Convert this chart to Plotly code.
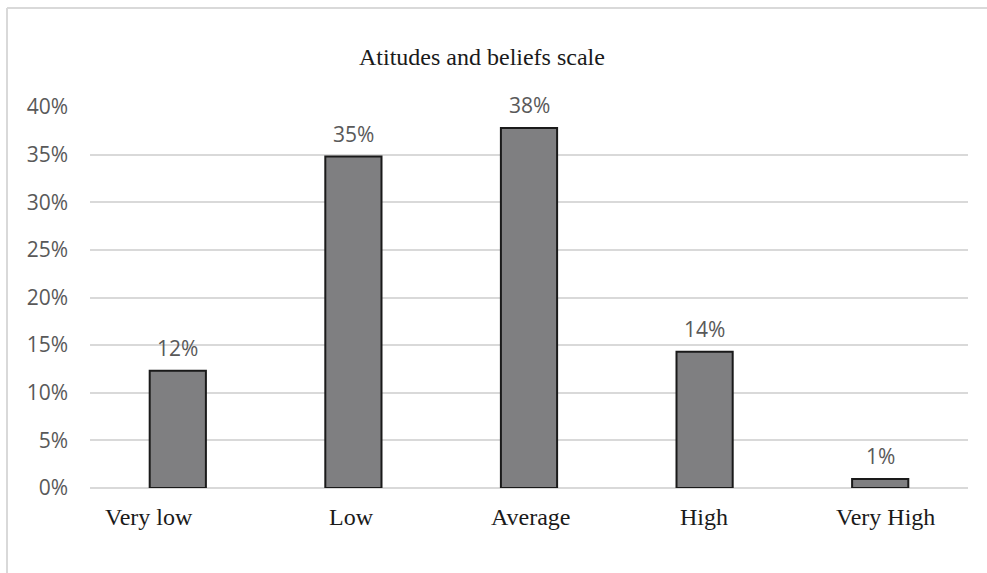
import plotly.graph_objects as go

categories = ["Very low", "Low", "Average", "High", "Very High"]
shares = [0.123, 0.348, 0.378, 0.143, 0.0095]
y_ticks = [0, 0.05, 0.10, 0.15, 0.20, 0.25, 0.30, 0.35, 0.40]
y_tick_text = ["0%", "5%", "10%", "15%", "20%", "25%", "30%", "35%", "40%"]
title_text = "Atitudes and beliefs scale"

# horizontal nudges (px) of the category captions
caption_shift = [-29, -2, 2, -1, 5]

W, H = 987, 573
ML, MR, MT, MB = 90, 19, 107, 85
pw, ph = W - ML - MR, H - MT - MB

fig = go.Figure()
fig.add_trace(go.Bar(
    x=categories, y=shares, width=0.32,
    marker=dict(color="#7f7f81", line=dict(color="#1a1a1a", width=2)),
    hoverinfo="skip",
))

# value labels above each bar
for c, v in zip(categories, shares):
    fig.add_annotation(
        x=c, y=v, text=f"{v:.0%}", showarrow=False,
        yanchor="bottom", yshift=7,
        font=dict(family="Open Sans, Arial", size=21, color="#595959"),
    )

# category captions under the axis
for c, dx in zip(categories, caption_shift):
    fig.add_annotation(
        x=c, y=0, xref="x", yref="paper", text=c, showarrow=False,
        yanchor="top", yshift=-14, xshift=dx,
        font=dict(family="Liberation Serif, Times New Roman", size=24, color="#1a1a1a"),
    )

# chart-area frame (left and top edges visible)
def px_x(p):
    return (p - ML) / pw

def px_y(p):
    return (H - MB - p) / ph

fig.add_shape(type="line", xref="paper", yref="paper",
              x0=px_x(7), x1=px_x(995), y0=px_y(8), y1=px_y(8),
              line=dict(color="#d9d9d9", width=2))
fig.add_shape(type="line", xref="paper", yref="paper",
              x0=px_x(7), x1=px_x(7), y0=px_y(8), y1=px_y(580),
              line=dict(color="#d9d9d9", width=2))

fig.add_annotation(
    xref="paper", yref="paper", x=px_x(482), y=px_y(57),
    text=title_text, showarrow=False, xanchor="center", yanchor="middle",
    font=dict(family="Liberation Serif, Times New Roman", size=24, color="#1a1a1a"),
)

fig.update_layout(
    width=W, height=H,
    margin=dict(l=ML, r=MR, t=MT, b=MB),
    paper_bgcolor="white", plot_bgcolor="white",
    showlegend=False,
    xaxis=dict(
        showgrid=False, showline=False, zeroline=False, ticks="",
        showticklabels=False,
    ),
    yaxis=dict(
        range=[0, 0.40], tickvals=y_ticks, ticktext=y_tick_text,
        showgrid=True, gridcolor="#d9d9d9", gridwidth=2,
        zeroline=True, zerolinecolor="#d9d9d9", zerolinewidth=2,
        showline=False, ticks="",
        tickfont=dict(family="Open Sans, Arial", size=21, color="#595959"),
        ticklabelstandoff=21,
    ),
)

fig.write_html("out.html")
